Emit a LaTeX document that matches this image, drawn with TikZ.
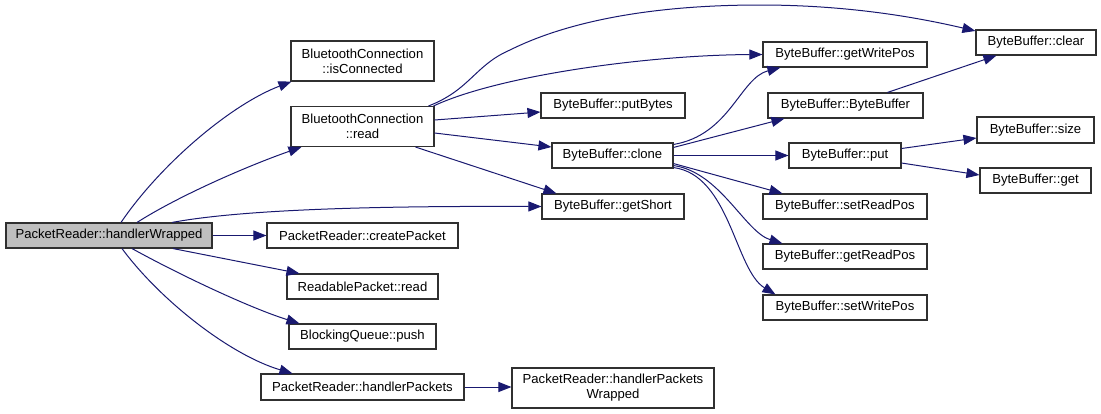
\documentclass[tikz,border=0pt]{standalone}
\usepackage{fontspec}
\setmainfont{Liberation Sans}
\usetikzlibrary{arrows.meta,calc}
\definecolor{edgec}{HTML}{191970}
\definecolor{boxc}{HTML}{303030}
\definecolor{mainfill}{HTML}{BFBFBF}
\begin{document}
\begin{tikzpicture}[x=1pt,y=-1pt,
  box/.style={draw=boxc, line width=1.1pt, fill=white, inner sep=0pt, align=center,
    font=\fontsize{13.1}{15}\selectfont},
  edge/.style={draw=edgec, line width=1pt, -{Triangle[length=13pt,width=10pt]}},
]
\useasboundingbox (0,0) rectangle (1101,413);
% nodes
\node[box, fill=mainfill, minimum width=206pt, minimum height=25pt] (hw) at (109,235.5) {PacketReader::handlerWrapped};
\node[box, minimum width=143pt, minimum height=40pt] (isc) at (362.5,61) {BluetoothConnection\\::isConnected};
\node[box, minimum width=143pt, minimum height=40pt] (btr) at (362.5,126.5) {BluetoothConnection\\::read};
\node[box, minimum width=191pt, minimum height=25pt] (cp) at (362.5,235.5) {PacketReader::createPacket};
\node[box, minimum width=151pt, minimum height=25pt] (rpr) at (362.5,286.5) {ReadablePacket::read};
\node[box, minimum width=147pt, minimum height=25pt] (bqp) at (362.5,336.5) {BlockingQueue::push};
\node[box, minimum width=203pt, minimum height=26pt] (hp) at (362.5,387) {PacketReader::handlerPackets};
\node[box, minimum width=202pt, minimum height=40pt] (hpw) at (613,388) {PacketReader::handlerPackets\\Wrapped};
\node[box, minimum width=144pt, minimum height=25pt] (pb) at (613,105.5) {ByteBuffer::putBytes};
\node[box, minimum width=121pt, minimum height=25pt] (cl) at (612.5,155.5) {ByteBuffer::clone};
\node[box, minimum width=142pt, minimum height=25pt] (gs) at (613,206.5) {ByteBuffer::getShort};
\node[box, minimum width=164pt, minimum height=25pt] (gwp) at (845,54.5) {ByteBuffer::getWritePos};
\node[box, minimum width=155pt, minimum height=25pt] (bb) at (845.5,105.5) {ByteBuffer::ByteBuffer};
\node[box, minimum width=112pt, minimum height=25pt] (put) at (845,155.5) {ByteBuffer::put};
\node[box, minimum width=164pt, minimum height=25pt] (srp) at (845,206.5) {ByteBuffer::setReadPos};
\node[box, minimum width=164pt, minimum height=25pt] (grp) at (845,256.5) {ByteBuffer::getReadPos};
\node[box, minimum width=164pt, minimum height=25pt] (swp) at (845,307.5) {ByteBuffer::setWritePos};
\node[box, minimum width=120pt, minimum height=25pt] (clr) at (1036,42.5) {ByteBuffer::clear};
\node[box, minimum width=117pt, minimum height=26pt] (sz) at (1035.5,130) {ByteBuffer::size};
\node[box, minimum width=111pt, minimum height=25pt] (get) at (1035.5,180.5) {ByteBuffer::get};
% edges from handlerWrapped
\draw[edge] ($(hw.north)+(12,0)$) .. controls (160,165) and (230,105) .. ($(isc.south west)+(1,0)$);
\draw[edge] ($(hw.north)+(28,0)$) .. controls (180,195) and (250,165) .. ($(btr.south west)+(11,0)$);
\draw[edge] ($(hw.north)+(63,0)$) .. controls (250,208) and (400,206) .. (gs.west);
\draw[edge] (hw.east) -- (cp.west);
\draw[edge] ($(hw.south)+(64,0)$) -- ($(rpr.north west)+(13,0)$);
\draw[edge] ($(hw.south)+(23,0)$) .. controls (180,275) and (250,308) .. ($(bqp.north west)+(11,0)$);
\draw[edge] ($(hw.south)+(13,0)$) .. controls (160,300) and (230,355) .. ($(hp.north west)+(32,0)$);
\draw[edge] (hp.east) -- (hp.east -| hpw.west);
% edges from BluetoothConnection::read
\draw[edge] ($(btr.north east)+(-6,0)$) .. controls (470,90) and (475,65) .. (510,50)
  .. controls (560,25) and (640,5) .. (760,5) .. controls (850,5) and (920,18) .. ($(clr.north west)+(0,1.5)$);
\draw[edge] ($(btr.north east)+(-1,0)$) .. controls (500,75) and (650,55) .. (gwp.west);
\draw[edge] ($(btr.east)+(0,-6.5)$) -- ($(pb.west)+(0,6.5)$);
\draw[edge] ($(btr.east)+(0,6.5)$) -- ($(cl.west)+(0,-8.5)$);
\draw[edge] ($(btr.south east)+(-19,0)$) -- ($(gs.north west)+(15,0)$);
% edges from clone
\draw[edge] ($(cl.north east)+(0,2)$) .. controls (730,135) and (740,78) .. ($(gwp.south west)+(18,0)$);
\draw[edge] ($(cl.north east)+(0,5)$) -- ($(bb.south west)+(17,0)$);
\draw[edge] (cl.east) -- (put.west);
\draw[edge] ($(cl.south east)+(0,-5)$) -- ($(srp.north west)+(20,0)$);
\draw[edge] ($(cl.south east)+(0,-3)$) .. controls (720,172) and (745,232) .. ($(grp.north west)+(20,0)$);
\draw[edge] ($(cl.south east)+(0,-1)$) .. controls (730,175) and (735,270) .. ($(swp.north west)+(13,0)$);
% other edges
\draw[edge] ($(bb.north west)+(120,0)$) -- ($(clr.south west)+(21,0)$);
\draw[edge] ($(put.east)+(0,-7)$) -- ($(sz.west)+(0,8)$);
\draw[edge] ($(put.east)+(0,7.5)$) -- ($(get.west)+(0,-5.5)$);
\end{tikzpicture}
\end{document}
